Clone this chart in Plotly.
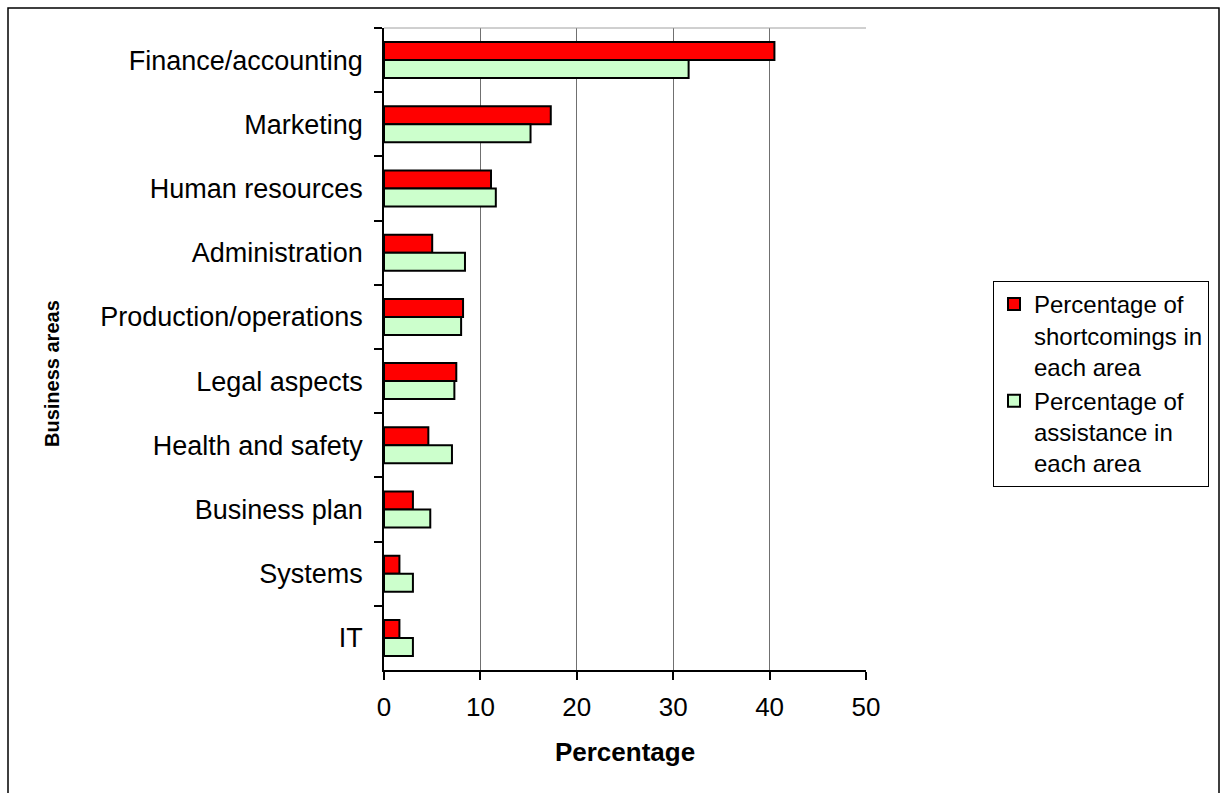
import plotly.graph_objects as go

categories = ["Finance/accounting", "Marketing", "Human resources", "Administration",
              "Production/operations", "Legal aspects", "Health and safety",
              "Business plan", "Systems", "IT"]
shortcomings = [40.5, 17.3, 11.1, 5.0, 8.2, 7.5, 4.6, 3.0, 1.6, 1.6]
assistance = [31.6, 15.2, 11.6, 8.4, 8.0, 7.3, 7.05, 4.8, 3.0, 3.0]
x_ticks = [0, 10, 20, 30, 40, 50]

FONT = "Arial, Liberation Sans, sans-serif"

fig = go.Figure()
fig.add_trace(go.Bar(
    y=categories, x=shortcomings, orientation="h",
    name="Percentage of<br>shortcomings in<br>each area",
    marker=dict(color="#FF0000", line=dict(color="black", width=2)),
))
fig.add_trace(go.Bar(
    y=categories, x=assistance, orientation="h",
    name="Percentage of<br>assistance in<br>each area",
    marker=dict(color="#CCFFCC", line=dict(color="black", width=2)),
))

W, H = 1221, 793
L, R, T, B = 384, 866, 28, 670
pw, ph = R - L, B - T

def px(xp):
    return (xp - L) / pw

def py(yp):
    return (B - yp) / ph

fig.update_layout(
    width=W, height=H,
    margin=dict(l=L, r=W - R, t=T, b=H - B, pad=0),
    paper_bgcolor="white", plot_bgcolor="white",
    barmode="group", bargap=0.44, bargroupgap=0,
    font=dict(family=FONT, color="black"),
    showlegend=True,
    legend=dict(
        x=px(993), y=py(384), xanchor="left", yanchor="middle",
        bordercolor="black", borderwidth=1, bgcolor="white",
        font=dict(size=24, family=FONT, color="black"),
        tracegroupgap=8, itemsizing="constant", valign="top",
    ),
    xaxis=dict(
        range=[0, 50], tickvals=x_ticks, ticktext=[str(v) for v in x_ticks],
        showgrid=True, gridcolor="#707070", gridwidth=1,
        showline=True, linecolor="black", linewidth=1.5,
        ticks="outside", ticklen=8, tickcolor="black", tickwidth=1.5,
        ticklabelstandoff=5,
        tickfont=dict(size=26, family=FONT, color="black"),
        title=dict(text="<b>Percentage</b>", font=dict(size=26, family=FONT, color="black"), standoff=22),
        zeroline=False,
    ),
    yaxis=dict(
        autorange="reversed", type="category",
        showgrid=False,
        showline=True, linecolor="black", linewidth=1.5,
        ticks="outside", ticklen=8, tickcolor="black", tickwidth=1.5, tickson="boundaries",
        ticklabelstandoff=14,
        tickfont=dict(size=27, family=FONT, color="black"),
    ),
    annotations=[dict(
        text="<b>Business areas</b>", xref="paper", yref="paper",
        x=px(52), y=py(374), xanchor="center", yanchor="middle",
        textangle=-90, showarrow=False,
        font=dict(size=20, family=FONT, color="black"),
    )],
)

# top edge of plot area (light gray)
fig.add_shape(type="line", xref="paper", yref="paper", x0=0, x1=1, y0=1, y1=1,
              line=dict(color="#A0A0A0", width=1))
# outer chart border
fig.add_shape(type="rect", xref="paper", yref="paper",
              x0=px(8), x1=px(1219), y0=py(805), y1=py(8),
              line=dict(color="black", width=1.5), layer="above")

fig.write_html("out.html")
